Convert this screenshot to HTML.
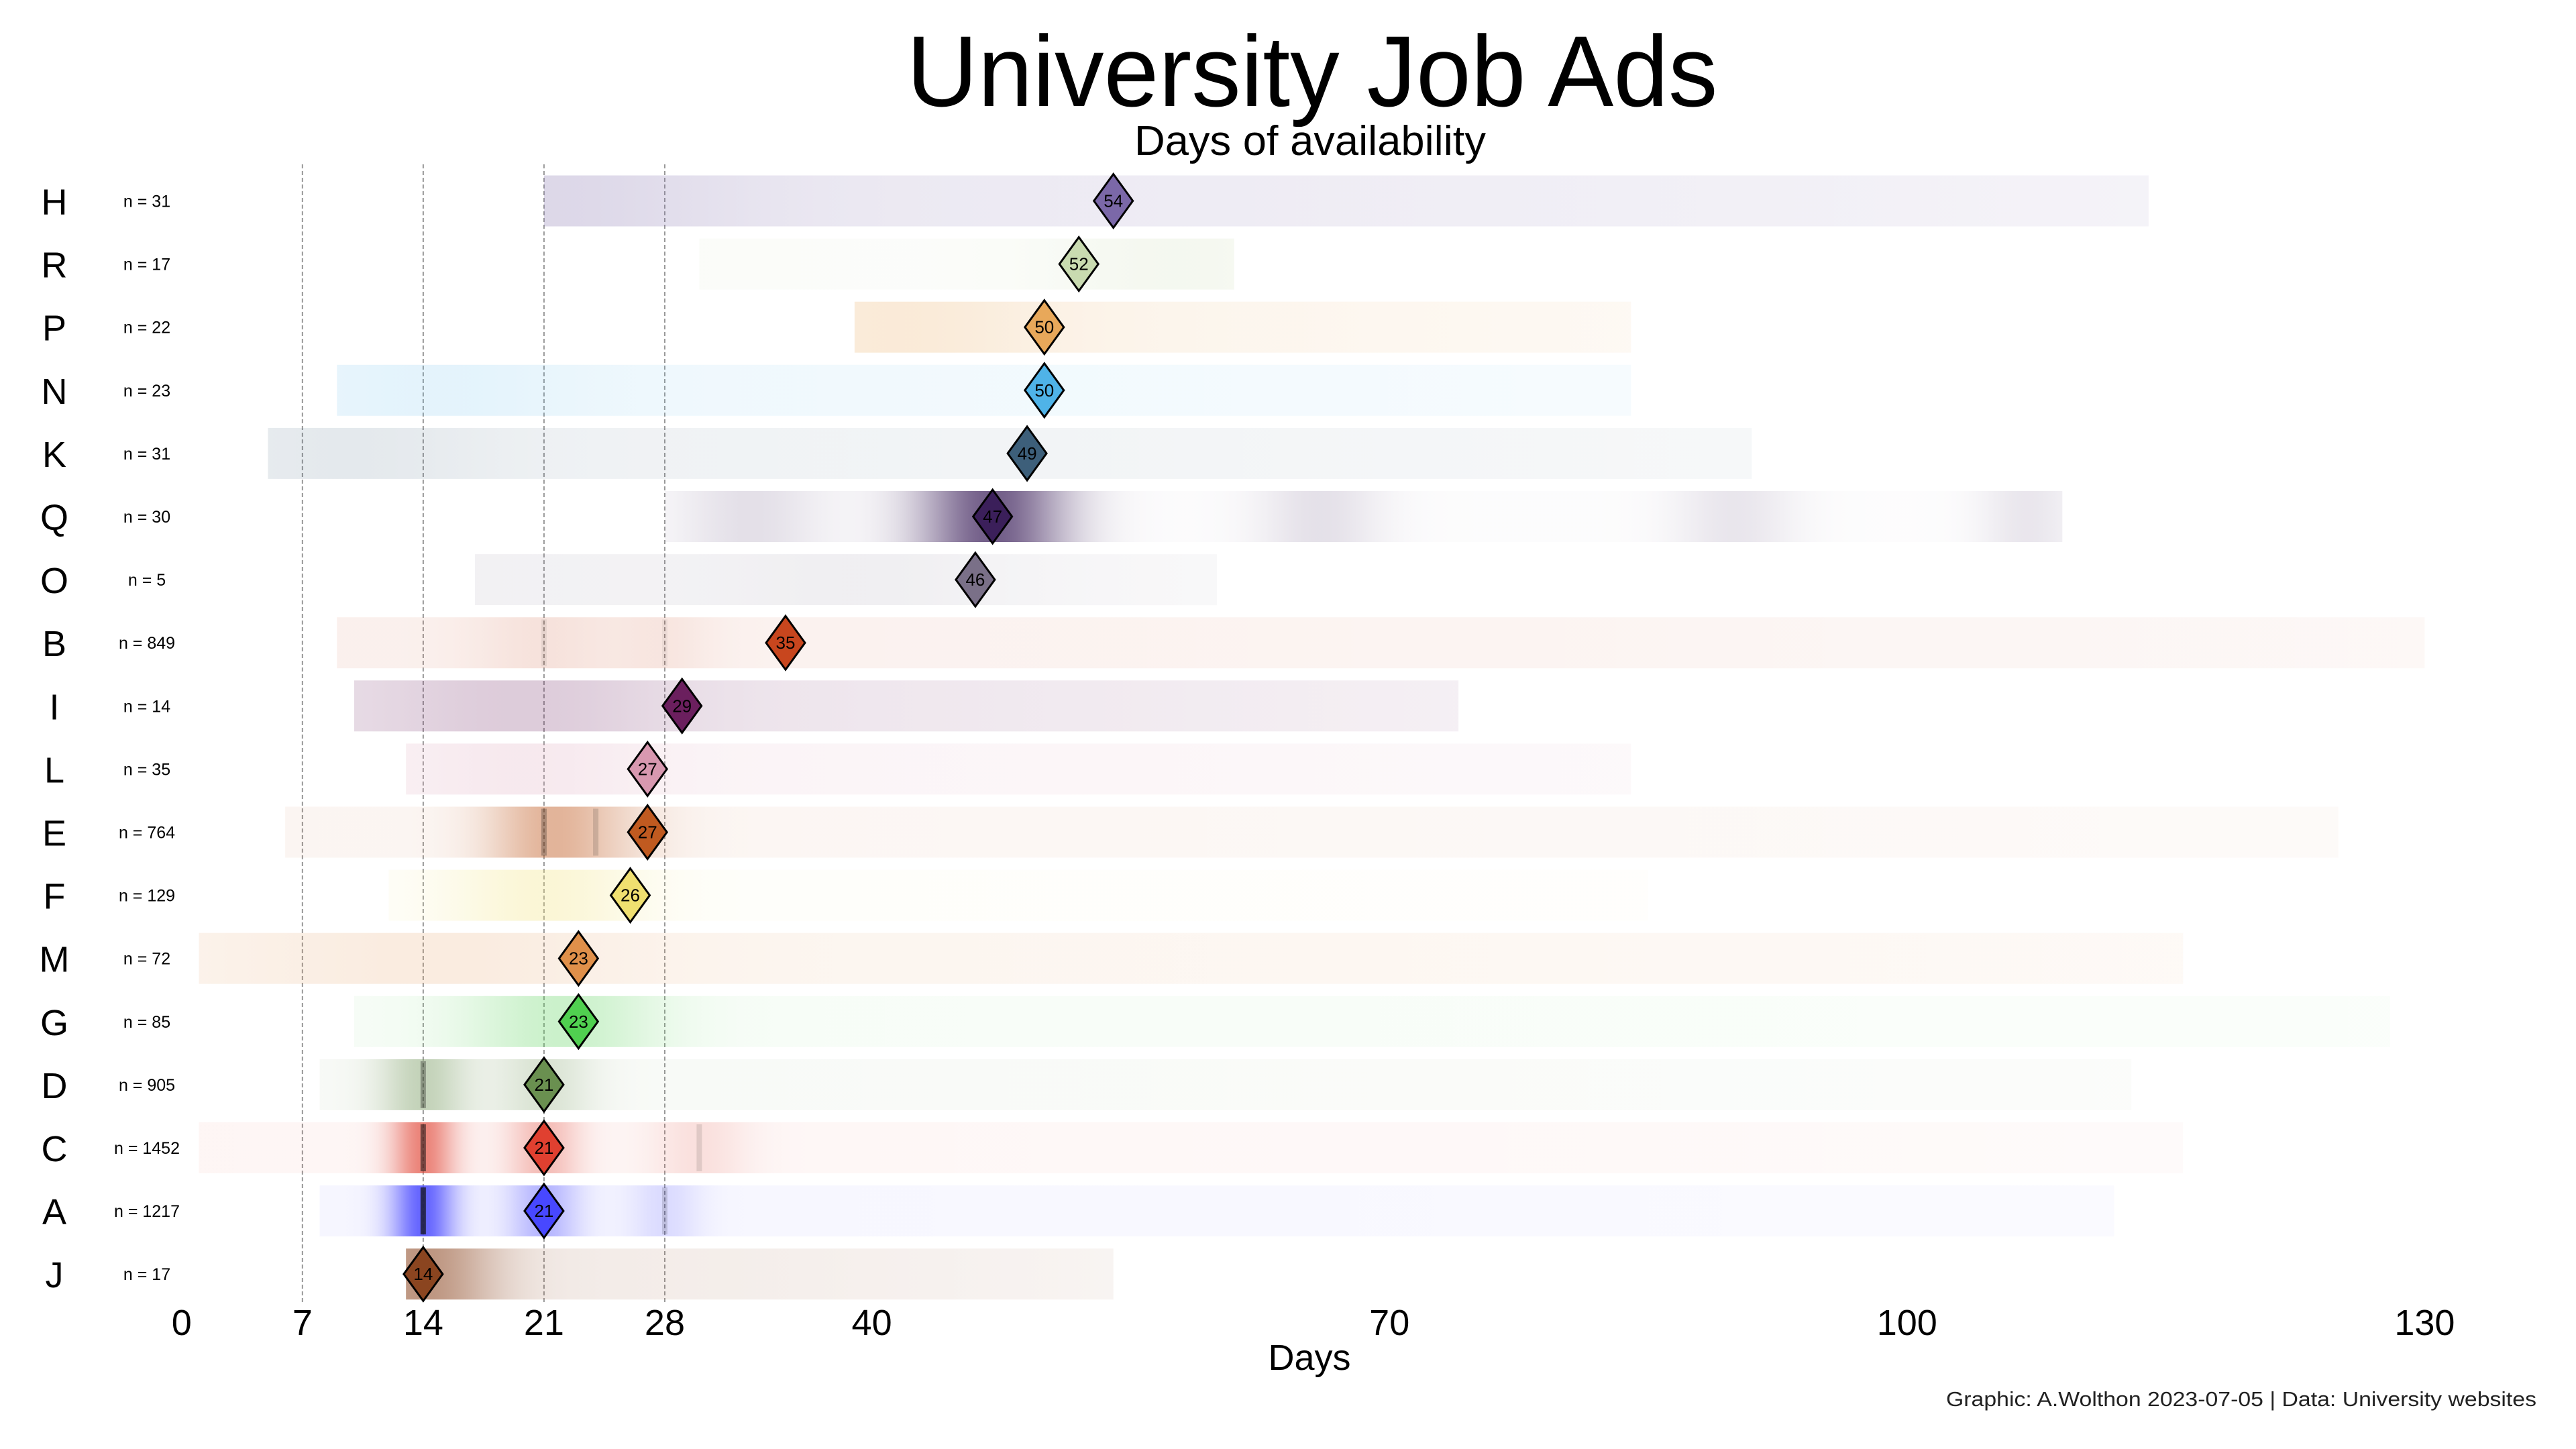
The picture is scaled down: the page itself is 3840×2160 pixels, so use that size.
<!DOCTYPE html>
<html><head><meta charset="utf-8"><style>
html,body{margin:0;padding:0;background:#fff;}
svg{display:block;font-family:"Liberation Sans",sans-serif;}
</style></head><body>
<svg id="chart" width="3840" height="2160" viewBox="0 0 3840 2160">
<defs id="defs"></defs>
<text x="1956" y="158" font-size="150" text-anchor="middle" textLength="1209" lengthAdjust="spacingAndGlyphs" fill="#000">University Job Ads</text>
<text x="1953" y="231" font-size="62" text-anchor="middle" textLength="524" lengthAdjust="spacingAndGlyphs" fill="#000">Days of availability</text>
<g id="grid"></g>
<g id="rows"></g>
<g id="xaxis"></g>
<text x="1952" y="2042" font-size="54" text-anchor="middle" fill="#000">Days</text>
<text x="3781" y="2096" font-size="31" text-anchor="end" textLength="880" lengthAdjust="spacingAndGlyphs" fill="#222">Graphic: A.Wolthon 2023-07-05 | Data: University websites</text>
</svg>
<script>
const categories = ["H","R","P","N","K","Q","O","B","I","L","E","F","M","G","D","C","A","J"];
const counts = [31,17,22,23,31,30,5,849,14,35,764,129,72,85,905,1452,1217,17];
const medians = [54,52,50,50,49,47,46,35,29,27,27,26,23,23,21,21,21,14];
const minDays = [21,30,39,9,5,28,17,9,10,13,6,12,1,10,8,1,8,13];
const maxDays = [114,61,84,84,91,109,60,130,74,84,125,85,116,128,113,116,112,54];
const colors = ["#7b68a8","#c9dbb0","#e8a85a","#4fb3e8","#3d5f7a","#3b1f5a","#7a7088","#c8461e","#6b1f5e","#d898b0","#c05a20","#f0e070","#e0904a","#50d050","#6a9050","#e04030","#4848ff","#8b4520"];
const baseAlpha = [0.16,0.08,0.14,0.1,0.09,0.02,0.1,0.08,0.14,0.12,0.06,0.04,0.1,0.05,0.05,0.05,0.05,0.12];
const peakDays = [[21],[58],[42],[15],[10],[47,33,66,90,107],[40],[21,28],[20],[20],[21,24],[21],[15],[22],[14,21],[14,21,30],[14,21,28],[14]];
const peakStrength = [[0.1],[0.15],[0.1],[0.06],[0.05],[0.7,0.12,0.12,0.1,0.1],[0.04],[0.08,0.06],[0.1],[0.1],[0.3,0.15],[0.25],[0.08],[0.25],[0.35,0.2],[0.6,0.3,0.12],[0.8,0.35,0.15],[0.45]];
const peakWidth = [[8],[6],[6],[6],[6],[3,3,2.5,2.5,2],[6],[3,2],[6],[5],[2.5,3],[4],[8],[4],[1.8,2],[1.3,1.5,2],[1.3,1.5,1.5],[3]];
const xTicks = [0,7,14,21,28,40,70,100,130];
const gridDays = [7,14,21,28];

const NS="http://www.w3.org/2000/svg";
const X0=270.8, XS=25.72;
const x = d => X0 + d*XS;
const ROW0=299.5, ROWS=94.1, BH=76;
const y = i => ROW0 + i*ROWS;
function mk(tag, attrs, parent){const e=document.createElementNS(NS,tag);for(const k in attrs)e.setAttribute(k,attrs[k]);parent.appendChild(e);return e;}
const defs=document.getElementById('defs');
const grid=document.getElementById('grid');
const rows=document.getElementById('rows');
const xaxis=document.getElementById('xaxis');

gridDays.forEach(d=>{
  const l=mk('line',{x1:x(d),x2:x(d),y1:245,y2:1945,stroke:'#999','stroke-width':2,'stroke-dasharray':'6,4'},grid);
  
  
});

categories.forEach((c,i)=>{
  const cy=y(i);
  const g=mk('g',{},rows);
  
  
  const gid='gr'+i;
  const lg=mk('linearGradient',{id:gid,gradientUnits:'userSpaceOnUse',x1:x(minDays[i]),x2:x(maxDays[i]),y1:0,y2:0},defs);
  const span=maxDays[i]-minDays[i];
  const steps=Math.round(span*3);
  for(let s=0;s<=steps;s++){
    const d=minDays[i]+span*s/steps;
    let a=baseAlpha[i]*(1-0.5*s/steps);
    peakDays[i].forEach((p,k)=>{const w=peakWidth[i][k];a+=peakStrength[i][k]*Math.exp(-((d-p)*(d-p))/(2*w*w));});
    a=Math.min(a,0.95);
    mk('stop',{offset:(s/steps).toFixed(4),'stop-color':colors[i],'stop-opacity':a.toFixed(3)},lg);
  }
  const r=mk('rect',{x:x(minDays[i]),y:cy-BH/2,width:x(maxDays[i])-x(minDays[i]),height:BH,fill:'url(#'+gid+')'},g);
  
  
  if(counts[i]>500){
    peakDays[i].forEach((p,k)=>{
      const s=mk('rect',{x:x(p)-4,y:cy-BH/2+3,width:8,height:BH-6,fill:'#111',opacity:(peakStrength[i][k]*0.9).toFixed(2)},g);
      
      
    });
  }
  const lab=mk('text',{x:81,y:cy+20,'font-size':54,'text-anchor':'middle',fill:'#000'},g);
  lab.textContent=c;
  
  
  const nl=mk('text',{x:219,y:cy+9,'font-size':25,'text-anchor':'middle',fill:'#000'},g);
  nl.textContent='n = '+counts[i];
  
  
  const mx=x(medians[i]);
  const dm=mk('polygon',{points:`${mx},${cy-40} ${mx+29},${cy} ${mx},${cy+40} ${mx-29},${cy}`,fill:colors[i],stroke:'#000','stroke-width':3},g);
  
  
  const mt=mk('text',{x:mx,y:cy+9,'font-size':26,'text-anchor':'middle',fill:'#000'},g);
  mt.textContent=medians[i];
  
  
});

xTicks.forEach(t=>{
  const tx=mk('text',{x:x(t),y:1990,'font-size':54,'text-anchor':'middle',fill:'#000'},xaxis);
  tx.textContent=t;
  
  
});
</script>
</body></html>
